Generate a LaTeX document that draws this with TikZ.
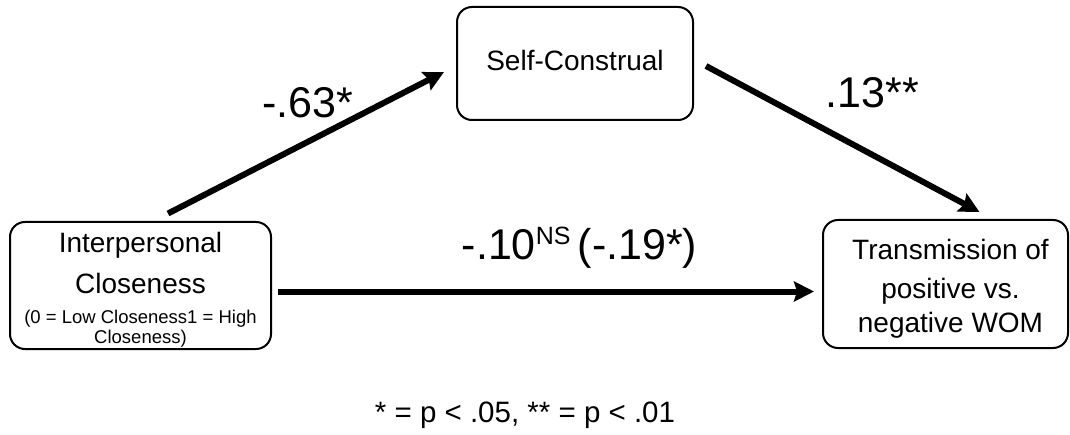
\documentclass[tikz,border=0pt]{standalone}
\usepackage{fontspec}
\setmainfont{Liberation Sans}
\usetikzlibrary{arrows.meta,calc}
\begin{document}
\begin{tikzpicture}[x=1pt,y=1pt,
  box/.style={draw=black, line width=2pt, rounded corners=15pt, inner sep=0pt},
  big/.style={font=\fontsize{28}{34}\selectfont, inner sep=0pt, anchor=base},
  small/.style={font=\fontsize{18.5}{22}\selectfont, inner sep=0pt, anchor=base},
  coef/.style={font=\fontsize{43}{50}\selectfont, inner sep=0pt, anchor=base},
  conn/.style={line width=6pt, -{Stealth[length=20pt,width=20pt,inset=3pt]}}
]
\useasboundingbox (0,0) rectangle (1070,434);
% boxes
\node[box, minimum width=261pt, minimum height=127pt] (L) at (140.5,148.5) {};
\node[box, minimum width=236pt, minimum height=113pt] (T) at (575,370.5) {};
\node[box, minimum width=245pt, minimum height=128pt] (R) at (945.5,150) {};
% box texts
\node[big] (L1) at ($(L)+(0,33.5)$) {Interpersonal};
\node[big] (L2) at ($(L)+(0,-7.5)$) {Closeness};
\node[small] (L3) at ($(L)+(0,-37.5)$) {(0 = Low Closeness1 = High};
\node[small] (L4) at ($(L)+(0,-57.5)$) {Closeness)};
\node[big] (T1) at ($(T)+(0,-7)$) {Self-Construal};
\node[big] (R1) at ($(R)+(5,24)$) {Transmission of};
\node[big] (R2) at ($(R)+(5,-14)$) {positive vs.};
\node[big] (R3) at ($(R)+(5,-48)$) {negative WOM};
% connectors
\draw[conn] ($(L.north)+(27.5,7.5)$) -- ($(T.west)+(-12,-8.5)$);
\draw[conn] ($(T.east)+(12,-2.5)$) -- ($(R.north)+(34,7)$);
\draw[conn] ($(L.east)+(6,-6)$) -- ($(R.west)+(-8,-7.5)$);
% coefficients
\node[coef] (c1) at (307.5,316) {-.63*};
\node[coef] (c2) at (872.5,326) {.13**};
\node[coef] (c3) at (579.5,174) {-.10\raisebox{15pt}{\fontsize{25}{25}\selectfont NS}\,(-.19*)};
% footnote
\node[inner sep=0pt, anchor=base, font=\fontsize{29.5}{34}\selectfont] (fn) at (525,12) {* = p < .05, ** = p < .01};
\end{tikzpicture}
\end{document}
